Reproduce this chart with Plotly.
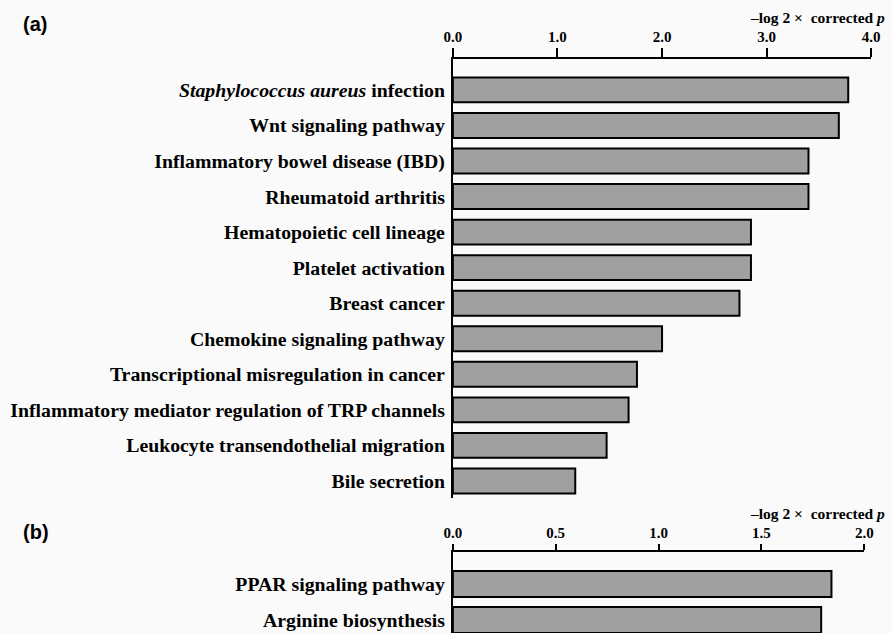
import plotly.graph_objects as go

# KEGG pathway enrichment, panel (a)
pathways_a = [
    "<i>Staphylococcus aureus</i> infection",
    "Wnt signaling pathway",
    "Inflammatory bowel disease (IBD)",
    "Rheumatoid arthritis",
    "Hematopoietic cell lineage",
    "Platelet activation",
    "Breast cancer",
    "Chemokine signaling pathway",
    "Transcriptional misregulation in cancer",
    "Inflammatory mediator regulation of TRP channels",
    "Leukocyte transendothelial migration",
    "Bile secretion",
]
scores_a = [3.78, 3.69, 3.40, 3.40, 2.85, 2.85, 2.74, 2.00, 1.76, 1.68, 1.47, 1.17]

# panel (b)
pathways_b = ["PPAR signaling pathway", "Arginine biosynthesis"]
scores_b = [1.84, 1.79]

ticks_a = [0, 1, 2, 3, 4]
ticks_b = [0, 0.5, 1.0, 1.5, 2.0]

W, H = 892, 633
SERIF = "Liberation Serif"
BAR_FILL = "#a0a0a0"

def px_x(p):
    return p / W

def px_y(p):
    return 1 - p / H

fig = go.Figure()

fig.add_trace(go.Bar(
    x=scores_a, y=pathways_a, orientation="h", width=0.7,
    marker=dict(color=BAR_FILL, line=dict(color="black", width=2)),
    xaxis="x", yaxis="y", showlegend=False,
))
fig.add_trace(go.Bar(
    x=scores_b, y=pathways_b, orientation="h", width=0.72,
    marker=dict(color=BAR_FILL, line=dict(color="black", width=2)),
    xaxis="x2", yaxis="y2", showlegend=False,
))

xcommon = dict(
    side="top", showline=True, linecolor="black", linewidth=2,
    ticks="outside", tickwidth=2, tickcolor="black",
    showgrid=False, zeroline=False, tickformat=".1f",
    tickfont=dict(family=SERIF, size=15, color="black", weight="bold"),
)
ycommon = dict(
    type="category", showline=True, linecolor="black", linewidth=2,
    ticks="", showgrid=False, zeroline=False, ticklabelstandoff=2,
    tickfont=dict(family=SERIF, size=19.8, color="black", weight="bold"),
)

fig.update_layout(
    width=W, height=H,
    margin=dict(l=0, r=0, t=0, b=0),
    paper_bgcolor="#fafafa", plot_bgcolor="rgba(0,0,0,0)",
    bargap=0.3,
    xaxis=dict(domain=[px_x(453), px_x(880)], range=[0, 4], tickvals=ticks_a,
               ticklen=9, anchor="y", **xcommon),
    yaxis=dict(domain=[px_y(498), px_y(59)], range=[11.48, -0.87],
               categoryorder="array", categoryarray=pathways_a,
               anchor="x", **ycommon),
    xaxis2=dict(domain=[px_x(453), px_x(873)], range=[0, 2], tickvals=ticks_b,
                ticklen=6, anchor="y2", **xcommon),
    yaxis2=dict(domain=[0, px_y(552)], range=[1.36, -0.89],
                categoryorder="array", categoryarray=pathways_b,
                anchor="x2", **ycommon),
)

title_text = "\u2013log 2 \u00d7  corrected <i>p</i>"
for yc in (17, 513):
    fig.add_annotation(
        text=title_text, xref="paper", yref="paper",
        x=px_x(896), y=px_y(yc), xanchor="right", yanchor="middle",
        showarrow=False,
        font=dict(family=SERIF, size=15.5, color="black", weight="bold"),
    )

for lab, yc in (("(a)", 24), ("(b)", 532)):
    fig.add_annotation(
        text=lab, xref="paper", yref="paper",
        x=px_x(12), y=px_y(yc), xanchor="left", yanchor="middle",
        showarrow=False,
        font=dict(family="Liberation Sans", size=20, color="black", weight="bold"),
    )

fig.write_html("out.html")
